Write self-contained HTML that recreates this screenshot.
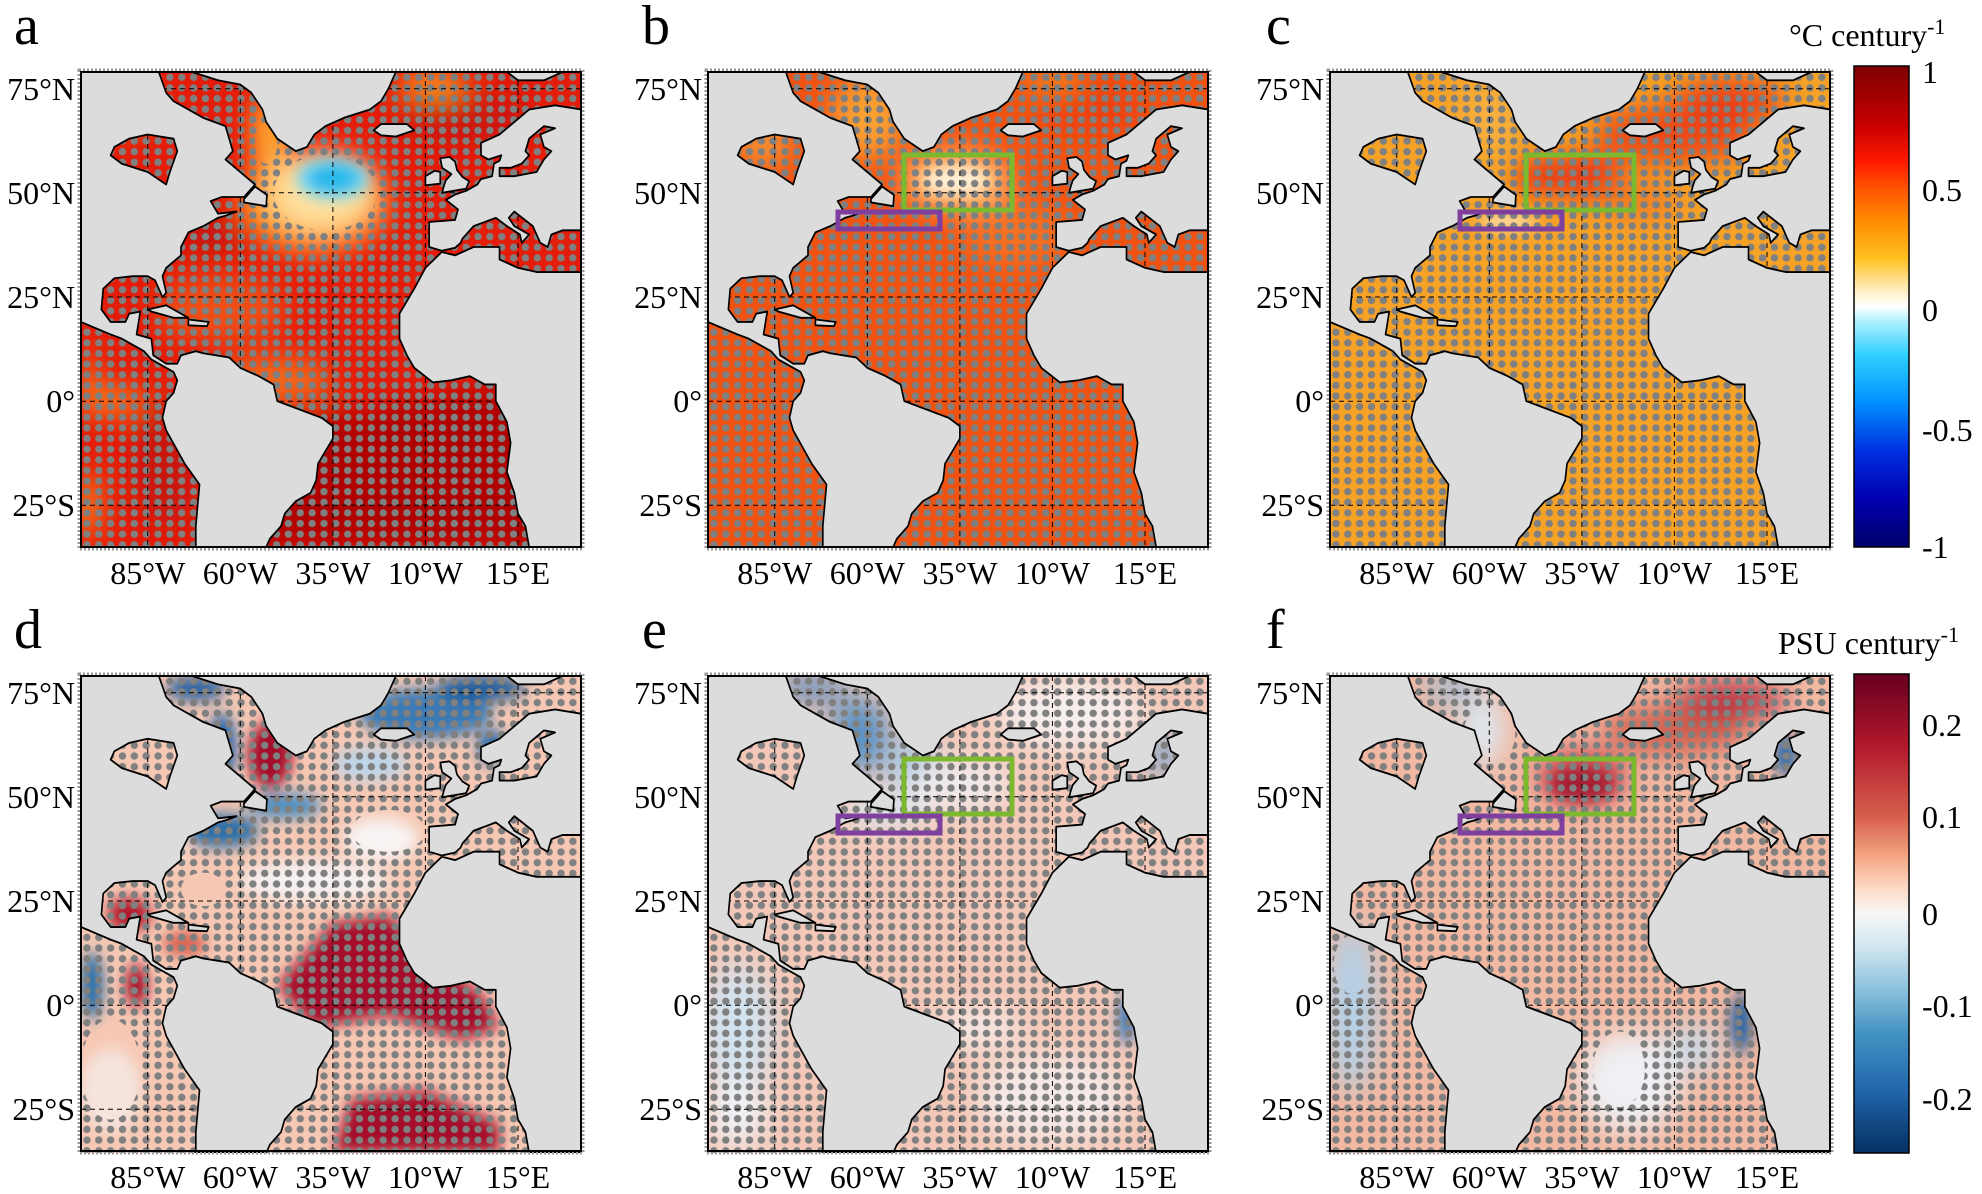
<!DOCTYPE html>
<html><head><meta charset="utf-8"><style>
html,body{margin:0;padding:0;background:#fff}
svg text{font-family:"Liberation Serif",serif;fill:#000}
</style></head><body>
<svg width="1982" height="1189" viewBox="0 0 1982 1189" xmlns="http://www.w3.org/2000/svg" font-family="Liberation Serif, serif">
<defs>
<filter id="b4" x="-50%" y="-50%" width="200%" height="200%"><feGaussianBlur stdDeviation="3.5"/></filter>
<filter id="b2" x="-50%" y="-50%" width="200%" height="200%"><feGaussianBlur stdDeviation="1.8"/></filter>
<pattern id="dots" patternUnits="userSpaceOnUse" x="-103" y="-79" width="3.2" height="2.55"><ellipse cx="1.6" cy="1.27" rx="1.0" ry="0.88" fill="#808080"/></pattern>
<path id="land" fill-rule="evenodd" d="M-103,-79 L-82,-79 -80,-74 -78,-72 -70,-68 -64,-66 -62,-60 -64,-58 -60,-55 -56,-52 -59,-49 -65,-49 -68,-48 -66,-45 -61,-45.5 -64,-44.5 -66,-44 -70,-42 -74,-40.5 -76,-37 -76,-35 -80,-32 -81,-30 -80,-26 -81,-25 -83,-29 -85,-30 -89,-30 -94,-29.5 -97,-27 -97.5,-22 -95,-19 -91,-19 -90,-21 -87,-21.5 -88,-16 -84,-15 -83.5,-11 -80,-9 -77,-9 -76,-11 -72,-12 -70,-11.5 -63,-10.5 -60,-8 -55,-6 -51,-4 -50,0 -44,2 -38,4 -35,6 -35,9 -39,15 -39.5,19 -41,22 -45,24 -48,27 -49,30 -52,33 -53,35 -72,35 -72,30 -71,20 -75,15 -80,7 -81,4 -80,0 -78,-2 -77,-5 -78,-7 -80,-8 -84,-10 -86,-12 -88,-13 -92,-15 -95,-16 -103,-19 Z
M-95,-59 L-92,-57 -85,-55 -80,-52 -79,-55 -77,-60 -78,-63 -85,-64 -90,-63 -94,-61 Z
M-73,-79 L-66,-77 -60,-76 -57,-74 -54,-70 -53,-67 -50,-63 -45,-60 -42,-61 -40,-64 -37,-66 -32,-68 -25,-70 -22,-72 -20,-75 -18,-79 Z
M-24,-65 L-22,-66.5 -15,-66.5 -13,-65 -18,-63.5 -22,-63.8 Z
M-5.5,-50 L1,-51 1.8,-52.8 0,-53.8 -1.5,-55.5 -2,-57.5 -3.5,-58.6 -6,-58.3 -5.5,-56 -3,-54.5 -4.5,-53 -5,-51.7 Z
M-10,-51.8 L-6,-52.2 -6,-55 -7.5,-55.3 -10,-54 Z
M-59,-47.7 L-53,-46.8 -52.8,-49.5 -56,-51.5 -59,-48.5 Z
M-5.6,-36.1 L-9,-37 -9,-43 -2,-43.5 -1.2,-46 -4.5,-48.3 -2,-49.6 1,-50.5 4,-52 5,-53.3 8,-54 8.5,-57 10,-57.7 10.5,-59 7,-58 5,-59 5,-62 10,-64 14,-67 18,-70 25,-71 32,-70 32,-41 27,-41 24,-40 23,-37 21,-38 20,-40 19,-42 14,-45.5 12.5,-44 14,-42 18,-40 16,-38 15.5,-40 12,-42 9,-44 6,-43 3,-42 0,-39 -0.5,-38 -2,-36.8 Z
M10,-54 L14,-54 20,-55 22,-58 24,-60 22,-61 21,-64 25,-65.5 22,-66 18,-63 17,-60 18,-59 16,-57 13,-56 10,-56 Z
M-5.6,-35.8 L-10,-32 -13,-27 -17,-21 -17,-15 -15,-11 -13,-8 -8,-4.5 -3,-5 2,-6 6,-4 9,-4 9,0 12,5 13,10 12,17 14,22 15,27 17,30 18,35 32,35 32,-31 20,-31 15,-32 10,-34 10,-37 3,-37 -2,-35 Z
M12,-79 L27,-79 22,-77 15,-77 Z
M-85,-22 L-80,-23 -74,-20 -78,-20 -84,-21.5 Z
M-74,-19.6 L-68.5,-19 -69,-18 -74,-18.2 Z"/>
<mask id="mAll" maskUnits="userSpaceOnUse" x="-103" y="-79" width="135" height="114"><rect x="-103" y="-79" width="135" height="114" fill="#fff"/><use href="#land" fill="#000"/></mask>
<mask id="mA" maskUnits="userSpaceOnUse" x="-103" y="-79" width="135" height="114"><rect x="-103" y="-79" width="135" height="114" fill="#fff"/><use href="#land" fill="#000"/><ellipse cx="-37" cy="-50" rx="14" ry="9" fill="#000"/><ellipse cx="-53" cy="-62" rx="3" ry="5" fill="#000"/></mask>
<mask id="mD" maskUnits="userSpaceOnUse" x="-103" y="-79" width="135" height="114"><rect x="-103" y="-79" width="135" height="114" fill="#fff"/><use href="#land" fill="#000"/><ellipse cx="-68" cy="-50" rx="9" ry="6" fill="#000"/><ellipse cx="-20" cy="-42" rx="10" ry="5" fill="#000"/><ellipse cx="-95" cy="15" rx="8" ry="12" fill="#000"/><ellipse cx="-45" cy="-66" rx="5" ry="5" fill="#000"/><ellipse cx="-70" cy="-28" rx="6" ry="4" fill="#000"/></mask>
<mask id="mF" maskUnits="userSpaceOnUse" x="-103" y="-79" width="135" height="114"><rect x="-103" y="-79" width="135" height="114" fill="#fff"/><use href="#land" fill="#000"/><ellipse cx="-60" cy="-65" rx="7" ry="7" fill="#000"/><ellipse cx="-25" cy="15" rx="7" ry="9" fill="#000"/><ellipse cx="-97" cy="-10" rx="5" ry="7" fill="#000"/></mask>
<g id="grid" stroke="#000" stroke-width="1" stroke-dasharray="5,4" fill="none">
<line x1="66.7" y1="0" x2="66.7" y2="475"/><line x1="159.3" y1="0" x2="159.3" y2="475"/><line x1="251.9" y1="0" x2="251.9" y2="475"/><line x1="344.4" y1="0" x2="344.4" y2="475"/><line x1="437" y1="0" x2="437" y2="475"/>
<line x1="0" y1="16.7" x2="500" y2="16.7"/><line x1="0" y1="120.8" x2="500" y2="120.8"/><line x1="0" y1="225" x2="500" y2="225"/><line x1="0" y1="329.2" x2="500" y2="329.2"/><line x1="0" y1="433.3" x2="500" y2="433.3"/>
</g>
<g id="frame" font-family="Liberation Serif, serif">
<rect x="-2" y="-2" width="504" height="479" fill="none" stroke="#999" stroke-width="3" stroke-dasharray="2,2"/>
<rect x="0" y="0" width="500" height="475" fill="none" stroke="#000" stroke-width="2"/>
<g font-size="32" text-anchor="end" font-family="Liberation Serif, serif">
<text x="-6" y="28">75°N</text><text x="-6" y="132">50°N</text><text x="-6" y="236">25°N</text><text x="-6" y="340">0°</text><text x="-6" y="444">25°S</text>
</g>
<g font-size="32" text-anchor="middle" font-family="Liberation Serif, serif">
<text x="66.7" y="512">85°W</text><text x="159.3" y="512">60°W</text><text x="251.9" y="512">35°W</text><text x="344.4" y="512">10°W</text><text x="437" y="512">15°E</text>
</g>
</g>
<g id="boxes" fill="none" stroke-width="5">
<rect x="196" y="83" width="108" height="55" stroke="#7cb92e"/>
<rect x="130" y="140" width="102" height="17" stroke="#7e3f9f"/>
</g>
<linearGradient id="cbT" x1="0" y1="0" x2="0" y2="1">
<stop offset="0" stop-color="#7f0000"/><stop offset="0.125" stop-color="#c80000"/><stop offset="0.2" stop-color="#ff1a00"/><stop offset="0.25" stop-color="#ff5000"/><stop offset="0.32" stop-color="#ff8a00"/><stop offset="0.4" stop-color="#ffc020"/><stop offset="0.47" stop-color="#fff0c8"/><stop offset="0.5" stop-color="#ffffff"/><stop offset="0.53" stop-color="#b0f0ff"/><stop offset="0.6" stop-color="#30d0ff"/><stop offset="0.7" stop-color="#0090ff"/><stop offset="0.8" stop-color="#0030e0"/><stop offset="0.9" stop-color="#0000b0"/><stop offset="1" stop-color="#00006a"/>
</linearGradient>
<linearGradient id="cbB" x1="0" y1="0" x2="0" y2="1">
<stop offset="0" stop-color="#67001f"/><stop offset="0.15" stop-color="#b2182b"/><stop offset="0.3" stop-color="#d6604d"/><stop offset="0.38" stop-color="#f4a582"/><stop offset="0.45" stop-color="#fddbc7"/><stop offset="0.5" stop-color="#f7f7f7"/><stop offset="0.57" stop-color="#d1e5f0"/><stop offset="0.65" stop-color="#92c5de"/><stop offset="0.75" stop-color="#4393c3"/><stop offset="0.87" stop-color="#2166ac"/><stop offset="1" stop-color="#053061"/>
</linearGradient>
</defs>
<rect width="1982" height="1189" fill="#fff"/>

<!-- Panel a -->
<g transform="translate(81,72)">
<svg width="500" height="475" viewBox="-103 -79 135 114" preserveAspectRatio="none">
<rect x="-103" y="-79" width="135" height="114" fill="#e41c0a"/>
<g filter="url(#b4)">
<polygon points="-45,5 20,-5 25,35 -60,35" fill="#b00606"/>
<ellipse cx="-80" cy="15" rx="8" ry="15" fill="#c81408"/>
<ellipse cx="-95" cy="0" rx="10" ry="2.5" fill="#ffa020"/>
<ellipse cx="-101" cy="25" rx="3" ry="8" fill="#f89020"/>
<ellipse cx="-101" cy="-5" rx="2" ry="8" fill="#f58020"/>
<ellipse cx="-65" cy="-22" rx="18" ry="8" fill="#ee5018"/>
<ellipse cx="-50" cy="-5" rx="15" ry="6" fill="#f06a1c"/>
<ellipse cx="-68" cy="-40" rx="8" ry="3" fill="#b80a0a"/>
<ellipse cx="-40" cy="-48" rx="20" ry="12" fill="#ffa828"/>
<ellipse cx="-38" cy="-50" rx="14" ry="9" fill="#ffe2a0"/>
<ellipse cx="-52" cy="-64" rx="5" ry="10" fill="#ffb030"/>
<ellipse cx="-8" cy="-76" rx="10" ry="3" fill="#ffa828"/>
<ellipse cx="0" cy="-68" rx="18" ry="5" fill="#c8140a"/>
<ellipse cx="-90" cy="-70" rx="8" ry="4" fill="#f8a028"/>
</g>
<g filter="url(#b2)">
<ellipse cx="-35" cy="-53.5" rx="10" ry="5" fill="#7ad8f4"/>
<ellipse cx="-35" cy="-53.5" rx="7" ry="3.5" fill="#20b8ec"/>
</g>
<rect x="-103" y="-79" width="135" height="114" fill="url(#dots)" mask="url(#mA)"/>
</svg>
<use href="#grid"/>
<svg width="500" height="475" viewBox="-103 -79 135 114" preserveAspectRatio="none"><use href="#land" fill="#dcdcdc" stroke="#000" stroke-width="0.45" stroke-linejoin="round"/></svg>
<use href="#frame"/>
</g>

<!-- Panel b -->
<g transform="translate(708,72)">
<svg width="500" height="475" viewBox="-103 -79 135 114" preserveAspectRatio="none">
<rect x="-103" y="-79" width="135" height="114" fill="#f05212"/>
<g filter="url(#b4)">
<ellipse cx="-60" cy="-68" rx="10" ry="10" fill="#f8a030"/>
<ellipse cx="-88" cy="-62" rx="8" ry="6" fill="#f59030"/>
<ellipse cx="-36" cy="-53" rx="15" ry="7" fill="#ffc070"/>
<ellipse cx="0" cy="-70" rx="15" ry="6" fill="#ec4010"/>
<ellipse cx="-10" cy="-77" rx="8" ry="3" fill="#f58a20"/>
<ellipse cx="-20" cy="-40" rx="15" ry="8" fill="#f47020"/>
</g>
<g filter="url(#b2)">
<ellipse cx="-36" cy="-53" rx="9" ry="3.5" fill="#fff0d8"/>
</g>
<rect x="-103" y="-79" width="135" height="114" fill="url(#dots)" mask="url(#mAll)"/>
</svg>
<use href="#grid"/>
<svg width="500" height="475" viewBox="-103 -79 135 114" preserveAspectRatio="none"><use href="#land" fill="#dcdcdc" stroke="#000" stroke-width="0.45" stroke-linejoin="round"/></svg>
<use href="#boxes"/>
<use href="#frame"/>
</g>

<!-- Panel c -->
<g transform="translate(1330,72)">
<svg width="500" height="475" viewBox="-103 -79 135 114" preserveAspectRatio="none">
<rect x="-103" y="-79" width="135" height="114" fill="#f5a226"/>
<g filter="url(#b4)">
<ellipse cx="-10" cy="-64" rx="22" ry="7" fill="#ea4a16"/>
<ellipse cx="5" cy="-72" rx="15" ry="5" fill="#e83a12"/>
<ellipse cx="-35" cy="-54" rx="12" ry="5" fill="#e53015"/>
<ellipse cx="-48" cy="-54" rx="5" ry="4" fill="#e02010"/>
<ellipse cx="-60" cy="-68" rx="8" ry="8" fill="#f8b040"/>
<ellipse cx="-20" cy="-48" rx="12" ry="4" fill="#f07a20"/>
</g>
<g filter="url(#b2)"><ellipse cx="-55" cy="-43" rx="8" ry="2" fill="#fde0b0"/></g>
<rect x="-103" y="-79" width="135" height="114" fill="url(#dots)" mask="url(#mAll)"/>
</svg>
<use href="#grid"/>
<svg width="500" height="475" viewBox="-103 -79 135 114" preserveAspectRatio="none"><use href="#land" fill="#dcdcdc" stroke="#000" stroke-width="0.45" stroke-linejoin="round"/></svg>
<use href="#boxes"/>
<use href="#frame"/>
</g>

<!-- Panel d -->
<g transform="translate(81,676)">
<svg width="500" height="477" viewBox="-103 -79 135 114" preserveAspectRatio="none">
<rect x="-103" y="-79" width="135" height="114" fill="#f6c8b4"/>
<g filter="url(#b2)">
<ellipse cx="-40" cy="-30" rx="20" ry="5" fill="#f5f0f0"/>
<polygon points="-50,-5 -35,-20 -20,-22 -10,-12 5,-3 10,5 0,8 -20,2 -40,5" fill="#a50f2a"/>
<polygon points="-30,22 -10,20 10,28 10,35 -35,35" fill="#a50f2a"/>
<ellipse cx="-52" cy="-60" rx="6" ry="8" fill="#a50f2a"/>
<ellipse cx="-90" cy="-22" rx="6" ry="4" fill="#b2182b"/>
<ellipse cx="-75" cy="-15" rx="6" ry="3" fill="#d6604d"/>
<ellipse cx="-65" cy="-62" rx="4" ry="8" fill="#2166ac"/>
<ellipse cx="-65" cy="-42" rx="10" ry="4" fill="#2c6ea8"/>
<ellipse cx="-48" cy="-48" rx="10" ry="3" fill="#4a8cc0"/>
<ellipse cx="-10" cy="-70" rx="18" ry="6" fill="#3b7ab5"/>
<ellipse cx="5" cy="-76" rx="12" ry="3" fill="#1f5a9a"/>
<ellipse cx="-25" cy="-58" rx="10" ry="4" fill="#bcd6ea"/>
<ellipse cx="8" cy="-62" rx="4" ry="4" fill="#2166ac"/>
<ellipse cx="-72" cy="-76" rx="8" ry="3" fill="#2a62a0"/>
<ellipse cx="-100" cy="-5" rx="3" ry="8" fill="#2c6ea8"/>
<ellipse cx="-88" cy="-5" rx="3" ry="5" fill="#a50f2a"/>
<ellipse cx="-95" cy="20" rx="8" ry="10" fill="#f5e4de"/>
<ellipse cx="-22" cy="-40" rx="10" ry="5" fill="#f8f4f4"/>
<ellipse cx="-80" cy="-40" rx="5" ry="6" fill="#fbeae4"/>
</g>
<rect x="-103" y="-79" width="135" height="114" fill="url(#dots)" mask="url(#mD)"/>
</svg>
<use href="#grid"/>
<svg width="500" height="477" viewBox="-103 -79 135 114" preserveAspectRatio="none"><use href="#land" fill="#dcdcdc" stroke="#000" stroke-width="0.45" stroke-linejoin="round"/></svg>
<use href="#frame"/>
</g>

<!-- Panel e -->
<g transform="translate(708,676)">
<svg width="500" height="477" viewBox="-103 -79 135 114" preserveAspectRatio="none">
<rect x="-103" y="-79" width="135" height="114" fill="#f4c8b8"/>
<g filter="url(#b4)">
<ellipse cx="-95" cy="5" rx="10" ry="15" fill="#d2e2ee"/>
<ellipse cx="-95" cy="25" rx="8" ry="8" fill="#eef2f6"/>
<ellipse cx="-10" cy="22" rx="20" ry="10" fill="#f4eae8"/>
<ellipse cx="-30" cy="5" rx="12" ry="4" fill="#f6ecea"/>
<ellipse cx="-62" cy="-65" rx="8" ry="9" fill="#5a92c4"/>
<ellipse cx="-75" cy="-76" rx="10" ry="3" fill="#4a84bc"/>
<ellipse cx="-48" cy="-58" rx="8" ry="6" fill="#a8c8e2"/>
<ellipse cx="-55" cy="-47" rx="12" ry="4" fill="#d8e6f0"/>
<ellipse cx="-5" cy="-70" rx="20" ry="8" fill="#f6efee"/>
<ellipse cx="20" cy="-60" rx="4" ry="5" fill="#6a9ecc"/>
<ellipse cx="-35" cy="-53" rx="14" ry="6" fill="#f0ecee"/>
</g>
<g filter="url(#b2)"><ellipse cx="10" cy="3" rx="2.5" ry="6" fill="#3f78b4"/></g>
<rect x="-103" y="-79" width="135" height="114" fill="url(#dots)" mask="url(#mAll)"/>
</svg>
<use href="#grid"/>
<svg width="500" height="477" viewBox="-103 -79 135 114" preserveAspectRatio="none"><use href="#land" fill="#dcdcdc" stroke="#000" stroke-width="0.45" stroke-linejoin="round"/></svg>
<use href="#boxes"/>
<use href="#frame"/>
</g>

<!-- Panel f -->
<g transform="translate(1330,676)">
<svg width="500" height="477" viewBox="-103 -79 135 114" preserveAspectRatio="none">
<rect x="-103" y="-79" width="135" height="114" fill="#f2b8a2"/>
<g filter="url(#b4)">
<ellipse cx="-10" cy="-66" rx="20" ry="6" fill="#d2604f"/>
<ellipse cx="-35" cy="-55" rx="12" ry="6" fill="#c8404a"/>
<ellipse cx="5" cy="-73" rx="15" ry="4" fill="#b2243a"/>
<ellipse cx="-62" cy="-66" rx="6" ry="9" fill="#dce8f0"/>
<ellipse cx="-70" cy="-76" rx="8" ry="3" fill="#92bede"/>
<ellipse cx="-97" cy="0" rx="7" ry="20" fill="#b4d0e6"/>
<ellipse cx="-22" cy="18" rx="14" ry="12" fill="#eef0f4"/>
<ellipse cx="-5" cy="10" rx="8" ry="5" fill="#c8dcec"/>
</g>
<g filter="url(#b2)">
<ellipse cx="-35" cy="-53" rx="9" ry="4" fill="#a51c30"/>
<ellipse cx="20" cy="-60" rx="3" ry="5" fill="#2f6aa8"/>
<ellipse cx="8" cy="4" rx="3" ry="7" fill="#2a64a4"/>
</g>
<rect x="-103" y="-79" width="135" height="114" fill="url(#dots)" mask="url(#mF)"/>
</svg>
<use href="#grid"/>
<svg width="500" height="477" viewBox="-103 -79 135 114" preserveAspectRatio="none"><use href="#land" fill="#dcdcdc" stroke="#000" stroke-width="0.45" stroke-linejoin="round"/></svg>
<use href="#boxes"/>
<use href="#frame"/>
</g>

<!-- panel letters -->
<g font-size="56" font-family="Liberation Serif, serif">
<text x="14" y="44">a</text><text x="642" y="44">b</text><text x="1266" y="44">c</text>
<text x="14" y="648">d</text><text x="642" y="648">e</text><text x="1266" y="648">f</text>
</g>

<!-- colorbars -->
<rect x="1854" y="66" width="55" height="481" fill="url(#cbT)" stroke="#000" stroke-width="1.5"/>
<rect x="1854" y="674" width="55" height="479" fill="url(#cbB)" stroke="#000" stroke-width="1.5"/>
<g font-size="32" font-family="Liberation Serif, serif">
<text x="1789" y="46">°C century<tspan dy="-12" font-size="22">-1</tspan></text>
<text x="1922" y="83">1</text><text x="1922" y="201">0.5</text><text x="1922" y="321">0</text><text x="1922" y="441">-0.5</text><text x="1922" y="558">-1</text>
<text x="1778" y="654">PSU century<tspan dy="-12" font-size="22">-1</tspan></text>
<text x="1922" y="736">0.2</text><text x="1922" y="828">0.1</text><text x="1922" y="925">0</text><text x="1922" y="1017">-0.1</text><text x="1922" y="1110">-0.2</text>
</g>
</svg>
</body></html>
